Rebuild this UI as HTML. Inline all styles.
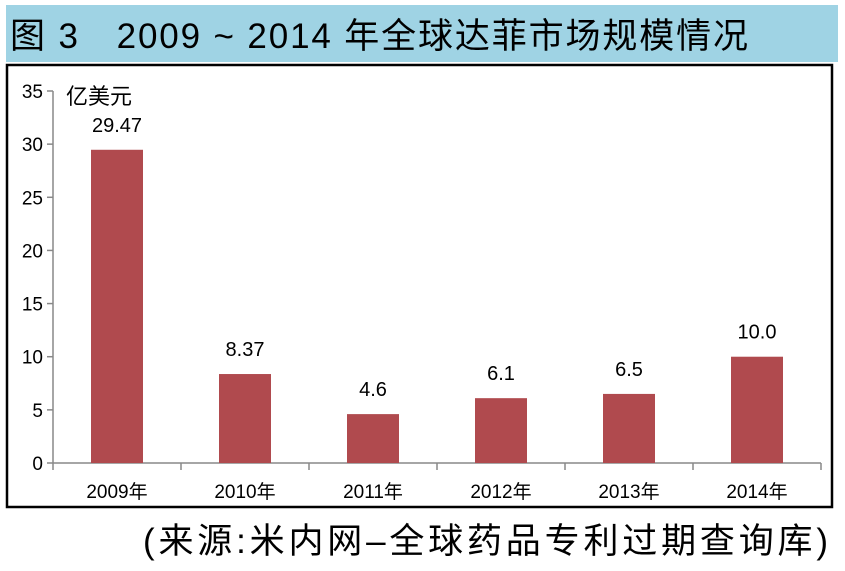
<!DOCTYPE html>
<html><head><meta charset="utf-8"><style>
body{margin:0;width:845px;height:566px;background:#fff;overflow:hidden;font-family:"Liberation Sans","Noto Sans CJK SC",sans-serif;}
</style></head><body>
<svg width="845" height="566" xmlns="http://www.w3.org/2000/svg" font-family="Liberation Sans, Noto Sans CJK SC, sans-serif">
<rect x="6" y="5" width="832" height="57" fill="#9fd3e4"/>
<text x="10" y="48" font-size="35" fill="#000" textLength="738" lengthAdjust="spacing">图 3　2009 ~ 2014 年全球达菲市场规模情况</text>
<rect x="7" y="65" width="825" height="442" fill="none" stroke="#000" stroke-width="2.5"/>
<text x="66" y="104" font-size="22" fill="#000">亿美元</text>
<g id="axes"></g>
<g id="bars"></g>
<text x="143" y="553" font-size="35" fill="#000" textLength="685" lengthAdjust="spacing">(来源:米内网–全球药品专利过期查询库)</text>
</svg>
<script>
const categories=["2009年","2010年","2011年","2012年","2013年","2014年"];
const values=[29.47,8.37,4.6,6.1,6.5,10.0];
const valueLabels=["29.47","8.37","4.6","6.1","6.5","10.0"];
const yTicks=[0,5,10,15,20,25,30,35];
const NS="http://www.w3.org/2000/svg";
const x0=53,x1=821,y0=463,yTop=91,yMax=35;
const step=(x1-x0)/categories.length;
const Y=v=>y0-(y0-yTop)*v/yMax;
const X=i=>x0+step*(i+0.5);
function mk(t,a,p){const e=document.createElementNS(NS,t);for(const k in a)e.setAttribute(k,a[k]);p.appendChild(e);return e;}
const ax=document.getElementById('axes'),bg=document.getElementById('bars');
let yl=mk('line',{x1:x0,y1:yTop,x2:x0,y2:y0,stroke:'#888','stroke-width':1.5},ax);


let xl=mk('line',{x1:x0,y1:y0,x2:x1,y2:y0,stroke:'#888','stroke-width':1.5},ax);


yTicks.forEach(v=>{
 mk('line',{x1:x0-6,y1:Y(v),x2:x0,y2:Y(v),stroke:'#888','stroke-width':1.5},ax);
 const t=mk('text',{x:x0-10,y:Y(v)+7,'font-size':19,'text-anchor':'end',fill:'#000'},ax);t.textContent=v;
 
 
});
for(let i=0;i<=categories.length;i++)mk('line',{x1:x0+step*i,y1:y0,x2:x0+step*i,y2:y0+7,stroke:'#888','stroke-width':1.5},ax);
categories.forEach((c,i)=>{
 const t=mk('text',{x:X(i),y:498,'font-size':19,'text-anchor':'middle',fill:'#000'},ax);t.textContent=c;
 
 
 const r=mk('rect',{x:X(i)-26,y:Y(values[i]),width:52,height:y0-Y(values[i]),fill:'#b04a4e'},bg);
 
 
 const l=mk('text',{x:X(i),y:Y(values[i])-18,'font-size':20,'text-anchor':'middle',fill:'#000'},bg);l.textContent=valueLabels[i];
 
 
});
</script>
</body></html>
